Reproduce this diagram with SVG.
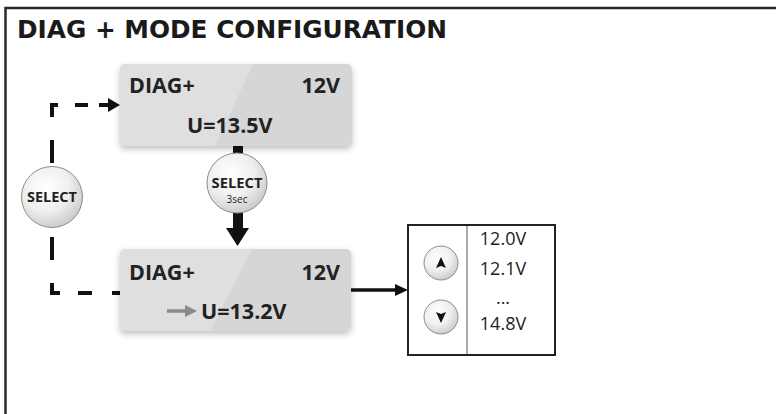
<svg xmlns="http://www.w3.org/2000/svg" width="776" height="414" viewBox="0 0 776 414">
<defs>
<style>
.lcd{font-family:"Open Sans","Liberation Sans",sans-serif;font-weight:700;font-size:21.5px;fill:#222}
.val{font-family:"Open Sans","Liberation Sans",sans-serif;font-size:18px;fill:#222}
.btn{font-family:"Open Sans","Liberation Sans",sans-serif;font-weight:700;fill:#222}
.dash{stroke:#111;stroke-width:4;fill:none}
</style>
<radialGradient id="btng" cx="0.4" cy="0.35" r="0.7">
<stop offset="0" stop-color="#ffffff"/>
<stop offset="0.55" stop-color="#efefef"/>
<stop offset="1" stop-color="#c8c8c8"/>
</radialGradient>
<filter id="sh" x="-10%" y="-10%" width="120%" height="130%">
<feDropShadow dx="0" dy="3" stdDeviation="3" flood-color="#000" flood-opacity="0.25"/>
</filter>
</defs>
<rect width="776" height="414" fill="#fff"/>
<g id="frame">
<path d="M5.5,414 V8 H776" fill="none" stroke="#2a2a2a" stroke-width="2.5"/>
<text x="17" y="38" font-family="'DejaVu Sans',Verdana,sans-serif" font-weight="700" font-size="24.5" fill="#1a1a1a" textLength="430" lengthAdjust="spacingAndGlyphs">DIAG + MODE CONFIGURATION</text>
</g>
<g id="connectors">
<path class="dash" d="M52,117 V105 H58"/>
<path class="dash" d="M75,105 H88"/>
<path class="dash" d="M99,105 H110"/>
<polygon points="108,98 120,105 108,112" fill="#111"/>
<path class="dash" d="M52,140 V163"/>
<path class="dash" d="M52,237 V260"/>
<path class="dash" d="M52,283 V293 H60"/>
<path class="dash" d="M78,293 H92"/>
<path class="dash" d="M112,293 H120"/>
<rect x="233" y="146" width="10" height="9" fill="#111"/>
<rect x="233" y="212" width="10" height="17" fill="#111"/>
<polygon points="226,228 249,228 237.5,246" fill="#111"/>
<path d="M351,290 H397" stroke="#111" stroke-width="3.5"/>
<polygon points="395,284 408,290 395,296" fill="#111"/>
</g>
<g id="lcd1" filter="url(#sh)">
<rect x="120" y="64" width="232" height="82" rx="5" fill="#d6d6d7"/>
<path d="M125,64 H253 L215,146 H125 A5,5 0 0 1 120,141 V69 A5,5 0 0 1 125,64 Z" fill="#dfdfe0"/>
</g>
<g id="lcd1text">
<text class="lcd" x="129" y="93">DIAG+</text>
<text class="lcd" x="340" y="93" text-anchor="end">12V</text>
<text class="lcd" x="187" y="133">U=13.5V</text>
</g>
<g id="lcd2" filter="url(#sh)">
<rect x="120" y="249" width="231" height="82" rx="5" fill="#d6d6d7"/>
<path d="M125,249 H252 L210,331 H125 A5,5 0 0 1 120,326 V254 A5,5 0 0 1 125,249 Z" fill="#dfdfe0"/>
</g>
<g id="lcd2text">
<text class="lcd" x="129" y="280">DIAG+</text>
<text class="lcd" x="340" y="280" text-anchor="end">12V</text>
<path d="M167,311 H187" stroke="#8a8a8a" stroke-width="3.5"/>
<polygon points="185,305 197,311 185,317" fill="#8a8a8a"/>
<text class="lcd" x="201" y="319">U=13.2V</text>
</g>
<g id="select-left">
<circle cx="52" cy="197" r="30.5" fill="url(#btng)" stroke="#8c8c8c" stroke-width="1"/>
<text class="btn" x="52" y="202" font-size="14" text-anchor="middle" textLength="50" lengthAdjust="spacingAndGlyphs">SELECT</text>
</g>
<g id="select-3sec">
<circle cx="237" cy="183" r="30" fill="url(#btng)" stroke="#8c8c8c" stroke-width="1"/>
<text class="btn" x="237" y="188" font-size="14" text-anchor="middle" textLength="51" lengthAdjust="spacingAndGlyphs">SELECT</text>
<text x="237" y="203" font-family="'Open Sans','Liberation Sans',sans-serif" font-size="10" fill="#222" text-anchor="middle">3sec</text>
</g>
<g id="panel">
<rect x="408" y="225" width="147" height="130" fill="#fff" stroke="#222" stroke-width="2"/>
<line x1="467" y1="226" x2="467" y2="354" stroke="#555" stroke-width="1"/>
<circle cx="441" cy="263" r="17" fill="url(#btng)" stroke="#8c8c8c" stroke-width="1"/>
<polygon points="441,257 446,268 441,266 436,268" fill="#111"/>
<circle cx="441" cy="317" r="17" fill="url(#btng)" stroke="#8c8c8c" stroke-width="1"/>
<polygon points="441,323 446,312 441,314 436,312" fill="#111"/>
<text class="val" x="503" y="245" text-anchor="middle">12.0V</text>
<text class="val" x="503" y="275" text-anchor="middle">12.1V</text>
<text class="val" x="503" y="304" font-size="15" text-anchor="middle">...</text>
<text class="val" x="503" y="330" text-anchor="middle">14.8V</text>
</g>
</svg>
